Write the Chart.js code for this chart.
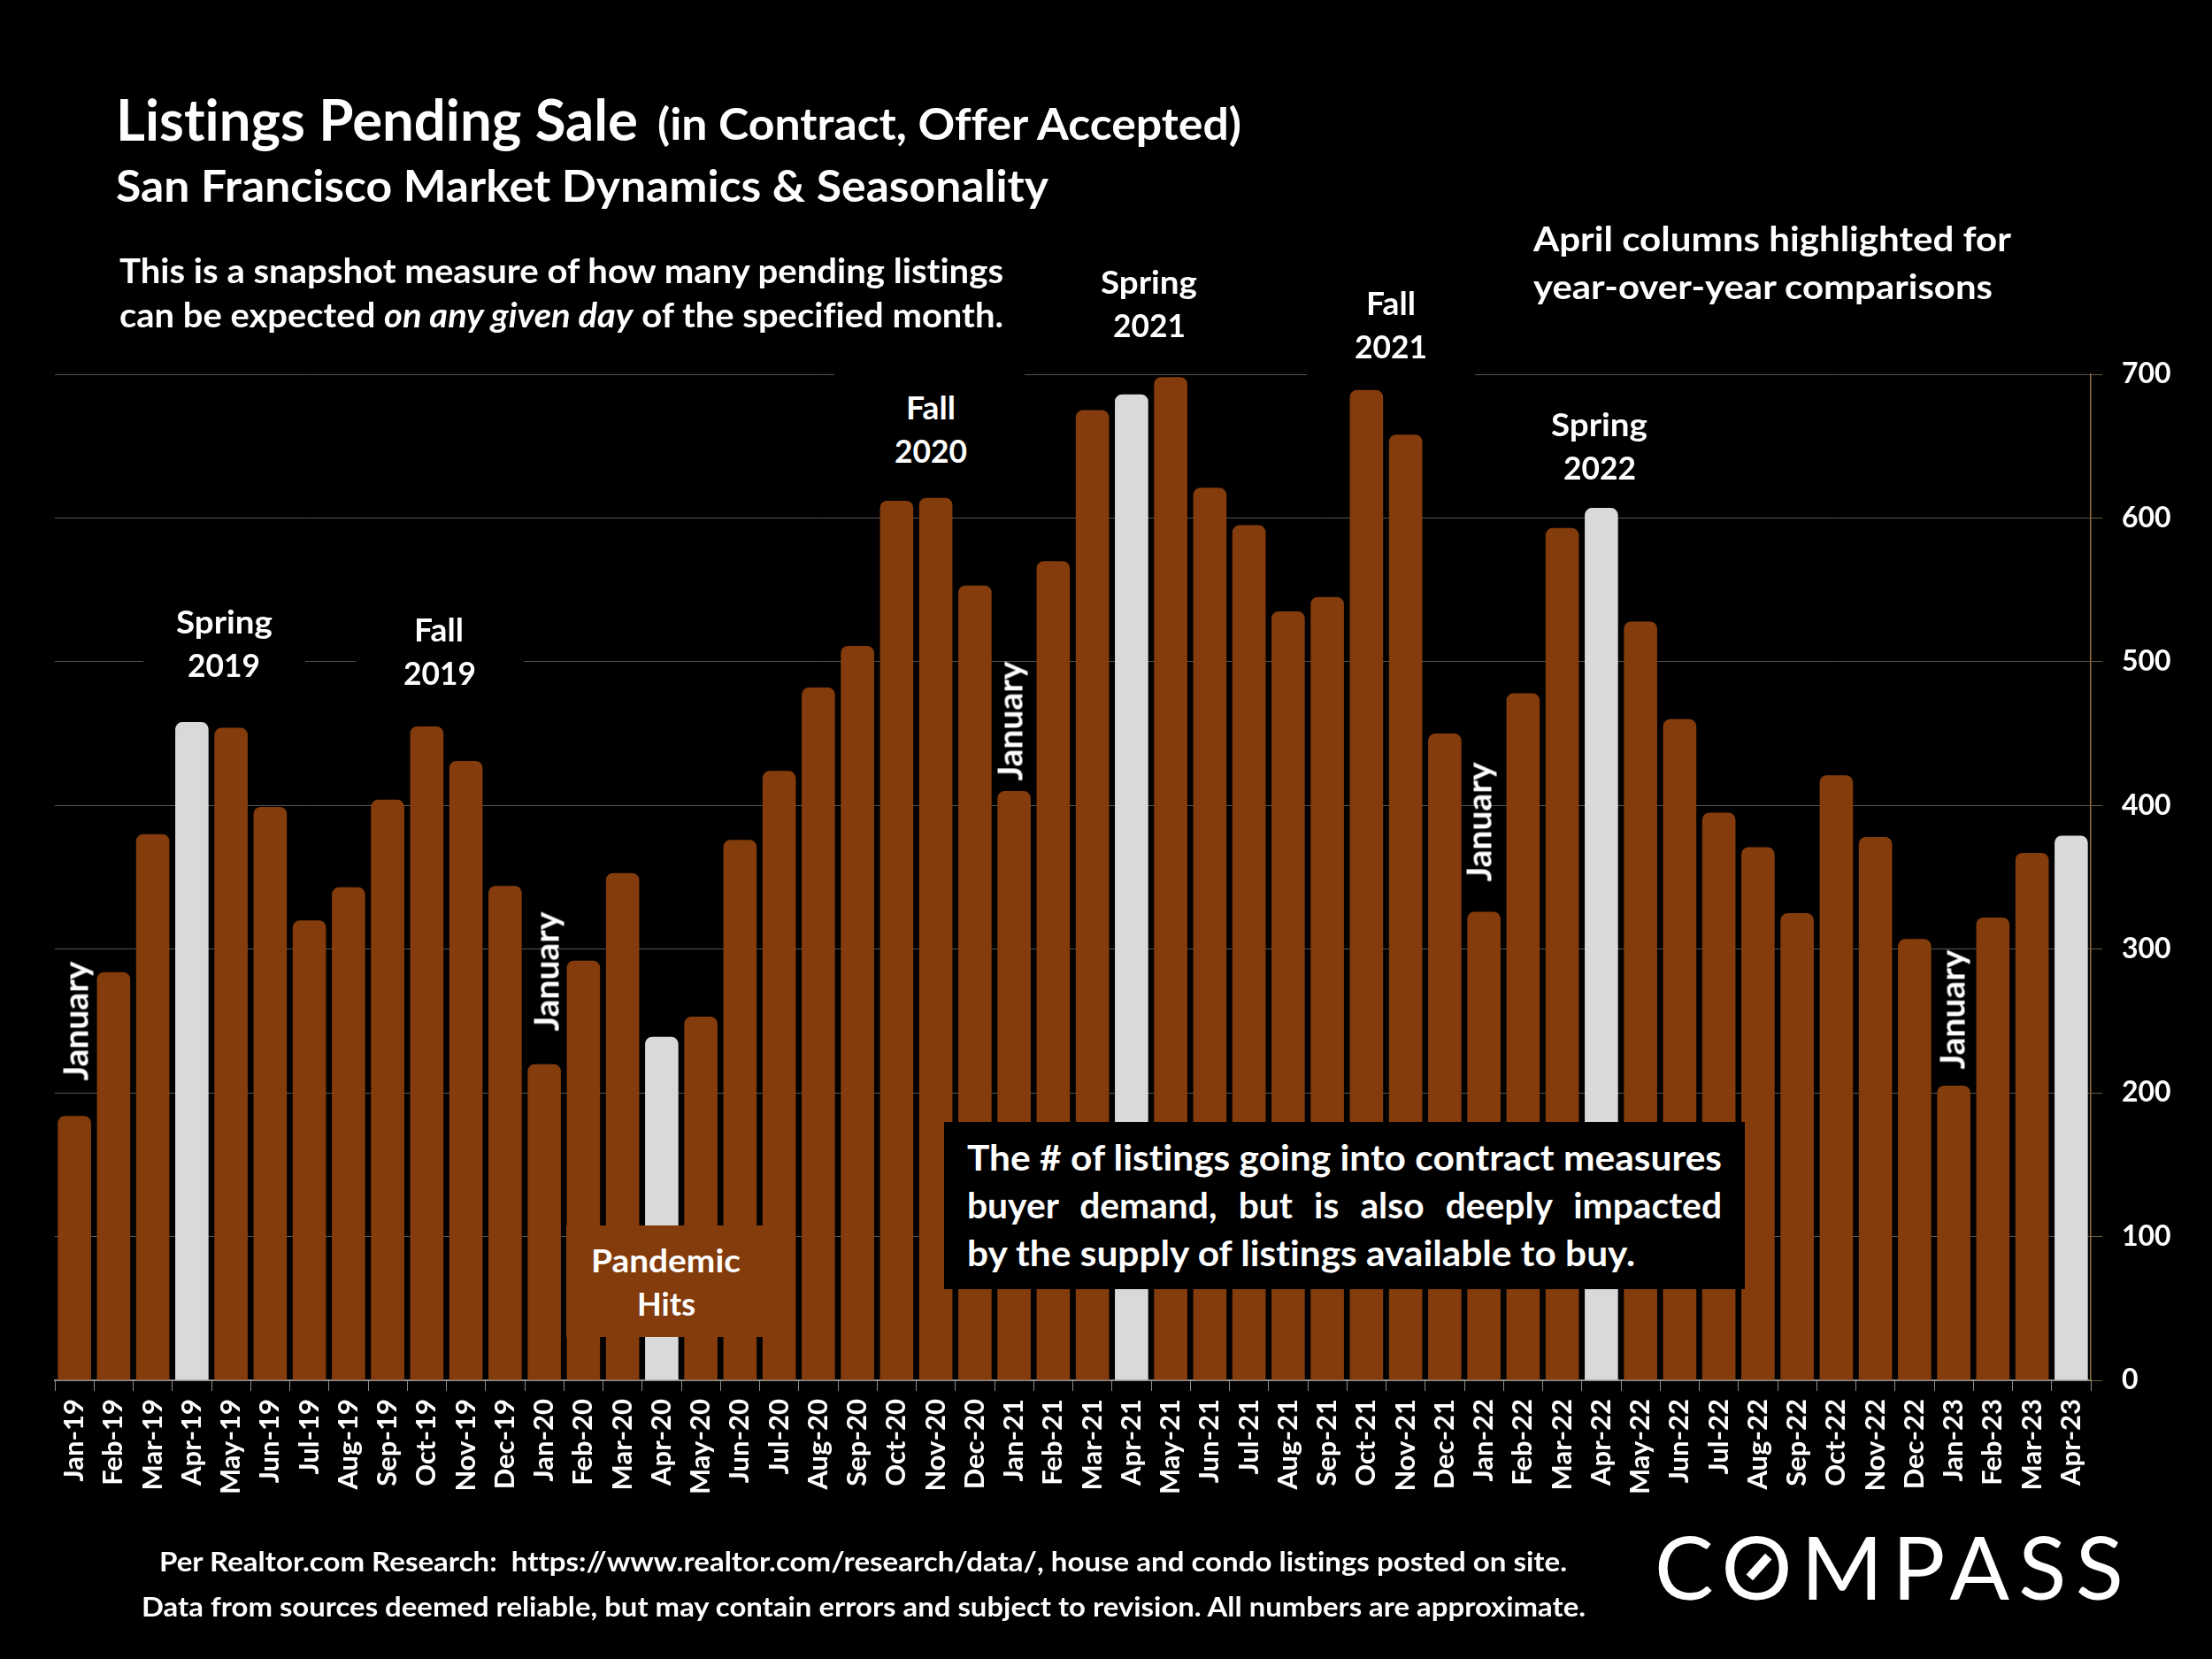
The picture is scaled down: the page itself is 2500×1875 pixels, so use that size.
<!DOCTYPE html>
<html>
<head>
<meta charset="utf-8">
<title>Listings Pending Sale</title>
<script src="https://cdn.jsdelivr.net/npm/chart.js@4"></script>
<style>
html,body{margin:0;padding:0;background:#000;}
#page{position:relative;width:2500px;height:1875px;overflow:hidden;background:#000;font-family:Lato,sans-serif;font-weight:700;color:#fff;font-variant-ligatures:none;}
canvas{position:absolute;left:0;top:0;}
.t{position:absolute;white-space:nowrap;line-height:1;transform-origin:left top;}
.mask{position:absolute;background:#000;}
.rot{position:absolute;white-space:nowrap;line-height:1;font-size:39px;transform:translate(-50%,-50%) rotate(-90deg);}
</style>
</head>
<body>
<div id="page">
  <canvas id="chart" width="2500" height="1875"></canvas>

  <!-- boxes that cut the gridlines behind the season labels -->
  <div class="mask" style="left:162px;top:680px;width:183px;height:110px"></div>
  <div class="mask" style="left:402px;top:690px;width:190px;height:110px"></div>
  <div class="mask" style="left:943px;top:405px;width:215px;height:140px"></div>
  <div class="mask" style="left:1477px;top:320px;width:190px;height:115px"></div>

  <div class="t" style="left:131px;top:102px;font-size:65px" data-w="590">Listings Pending Sale</div>
  <div class="t" style="left:743px;top:114px;font-size:50px" data-w="660">(in Contract, Offer Accepted)</div>
  <div class="t" style="left:131px;top:184px;font-size:50px" data-w="1054">San Francisco Market Dynamics &amp; Seasonality</div>
  <div class="t" style="left:135px;top:286px;font-size:39px" data-w="999">This is a snapshot measure of how many pending listings</div>
  <div class="t" style="left:135px;top:336px;font-size:39px" data-w="999">can be expected <i>on any given day</i> of the specified month.</div>
  <div class="t" style="left:1733px;top:250px;font-size:39px" data-w="540">April columns highlighted for</div>
  <div class="t" style="left:1733px;top:304px;font-size:39px" data-w="519">year-over-year comparisons</div>

  <div class="t" style="left:199px;top:683px;font-size:37px" data-w="109">Spring</div>
  <div class="t" style="left:212px;top:732px;font-size:37px" data-w="82">2019</div>
  <div class="t" style="left:468px;top:692px;font-size:37px" data-w="56">Fall</div>
  <div class="t" style="left:456px;top:741px;font-size:37px" data-w="82">2019</div>
  <div class="t" style="left:1024px;top:441px;font-size:37px" data-w="56">Fall</div>
  <div class="t" style="left:1011px;top:490px;font-size:37px" data-w="82">2020</div>
  <div class="t" style="left:1244px;top:299px;font-size:37px" data-w="109">Spring</div>
  <div class="t" style="left:1258px;top:348px;font-size:37px" data-w="82">2021</div>
  <div class="t" style="left:1544px;top:323px;font-size:37px" data-w="56">Fall</div>
  <div class="t" style="left:1531px;top:372px;font-size:37px" data-w="82">2021</div>
  <div class="t" style="left:1753px;top:460px;font-size:37px" data-w="109">Spring</div>
  <div class="t" style="left:1767px;top:509px;font-size:37px" data-w="82">2022</div>

  <div class="rot" style="left:85px;top:1154px">January</div>
  <div class="rot" style="left:617px;top:1098px">January</div>
  <div class="rot" style="left:1141px;top:815px">January</div>
  <div class="rot" style="left:1671px;top:929px">January</div>
  <div class="rot" style="left:2206px;top:1141px">January</div>

  <div class="mask" style="left:640px;top:1385px;width:226px;height:126px;background:#843C0C"></div>
  <div class="t" style="left:668px;top:1405px;font-size:37px" data-w="169">Pandemic</div>
  <div class="t" style="left:720px;top:1454px;font-size:37px" data-w="66">Hits</div>

  <div class="mask" style="left:1067px;top:1268px;width:905px;height:189px"></div>
  <div class="t" style="left:1093px;top:1288px;font-size:40px" data-w="853">The # of listings going into contract measures</div>
  <div class="t" style="left:1093px;top:1342px;font-size:40px;word-spacing:14px" data-w="853">buyer demand, but is also deeply impacted</div>
  <div class="t" style="left:1093px;top:1396px;font-size:40px" data-w="755">by the supply of listings available to buy.</div>

  <div class="t" style="left:180px;top:1749px;font-size:30px" data-w="1591">Per Realtor.com Research:&nbsp; https://www.realtor.com/research/data/, house and condo listings posted on site.</div>
  <div class="t" style="left:160px;top:1800px;font-size:30px" data-w="1632">Data from sources deemed reliable, but may contain errors and subject to revision. All numbers are approximate.</div>

  <div class="t" style="left:1870px;top:1721px;font-size:98px;font-weight:400;letter-spacing:10px" data-w="540">COMPASS</div>
  <div class="mask" style="left:1983px;top:1755px;width:10px;height:32px;background:#fff;transform:rotate(42deg)"></div>
</div>

<script>
const months = ["Jan-19","Feb-19","Mar-19","Apr-19","May-19","Jun-19","Jul-19","Aug-19","Sep-19","Oct-19","Nov-19","Dec-19",
  "Jan-20","Feb-20","Mar-20","Apr-20","May-20","Jun-20","Jul-20","Aug-20","Sep-20","Oct-20","Nov-20","Dec-20",
  "Jan-21","Feb-21","Mar-21","Apr-21","May-21","Jun-21","Jul-21","Aug-21","Sep-21","Oct-21","Nov-21","Dec-21",
  "Jan-22","Feb-22","Mar-22","Apr-22","May-22","Jun-22","Jul-22","Aug-22","Sep-22","Oct-22","Nov-22","Dec-22",
  "Jan-23","Feb-23","Mar-23","Apr-23"];

const listings = [184,284,380,458,454,399,320,343,404,455,431,344,
  220,292,353,239,253,376,424,482,511,612,614,553,
  410,570,675,686,698,621,595,535,545,689,658,450,
  326,478,593,607,528,460,395,371,325,421,378,307,
  205,322,367,379];

const axisMax = 700;
const axisStep = 100;

const BROWN = "#843C0C";
const GREY = "#D9D9D9";

// April columns are the highlighted ones
const barColors = months.map(m => m.startsWith("Apr") ? GREY : BROWN);

// ================= CHART =================
new Chart(document.getElementById("chart"), {
  type: "bar",
  data: {
    labels: months,
    datasets: [{
      data: listings,
      backgroundColor: barColors,
      barPercentage: 0.85,
      categoryPercentage: 1,
      borderRadius: 8
    }]
  },
  options: {
    responsive: false,
    animation: false,
    devicePixelRatio: 1,
    layout: { padding: { left: 62, top: 423, right: 0, bottom: 0 } },
    plugins: { legend: { display: false }, tooltip: { enabled: false } },
    scales: {
      x: {
        grid: { drawOnChartArea: false, tickLength: 12, tickColor: "#8c8c8c", lineWidth: 1 },
        border: { color: "#8c8c8c", width: 2 },
        afterFit: s => { s.height = 315; },
        ticks: {
          color: "#fff", autoSkip: false, minRotation: 90, maxRotation: 90, padding: 9,
          font: { family: "Lato", weight: "bold", size: 31 }
        }
      },
      y: {
        position: "right",
        min: 0,
        max: axisMax,
        afterFit: s => { s.width = 137; },
        grid: { color: "#555555", tickColor: "#6b5d45", tickLength: 13, lineWidth: 1 },
        border: { color: "#8f7242", width: 1.5 },
        ticks: {
          stepSize: axisStep, color: "#fff", padding: 22,
          font: { family: "Lato", weight: "bold", size: 32 }
        }
      }
    }
  }
});

// squeeze the Lato text to the line widths of the original
document.querySelectorAll(".t[data-w]").forEach(el => {
  const w = el.getBoundingClientRect().width;
  el.style.transform = "scaleX(" + (el.dataset.w / w) + ")";
});
</script>
</body>
</html>
